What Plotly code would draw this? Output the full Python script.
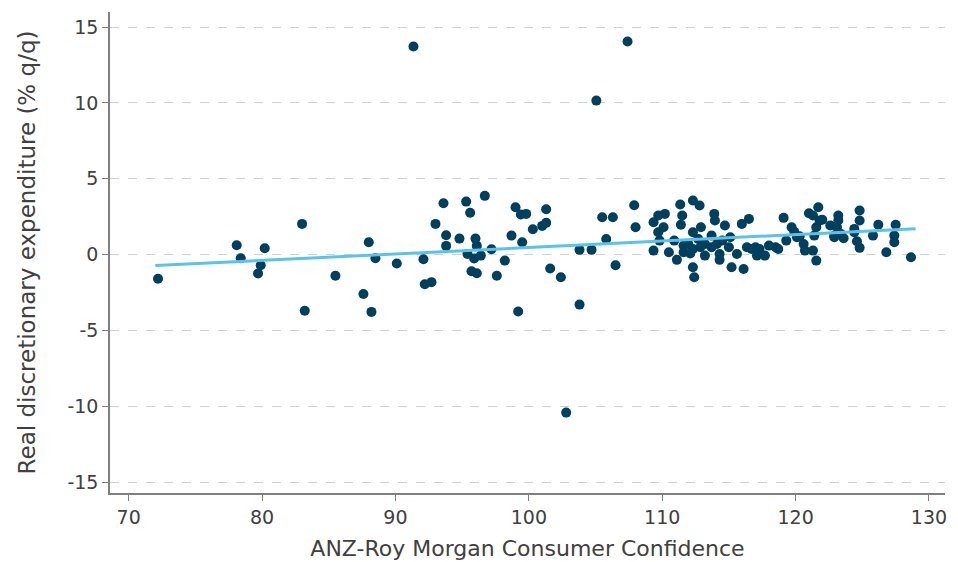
import plotly.graph_objects as go

# ANZ-Roy Morgan Consumer Confidence (x) vs real discretionary expenditure % q/q (y)
confidence = [
    72.2, 78.1, 78.4, 80.2, 79.9, 79.7, 83.0, 83.2, 85.5, 88.0, 88.5, 90.1, 87.6, 88.2,
    92.1, 92.2, 92.7, 93.0, 93.6, 93.8, 93.8, 94.8, 95.3, 95.6, 96.7, 96.0, 96.1, 95.4,
    95.9, 96.4, 97.2, 95.7, 96.1, 97.6, 98.2, 98.7, 99.0, 99.4, 99.8, 99.5, 100.3, 101.0,
    101.3, 101.3, 99.2, 101.6, 102.4, 103.8, 104.7, 103.8, 105.5, 106.3, 105.8, 106.5,
    107.9, 108.0, 91.35, 107.4, 105.06, 102.8,
    109.35, 109.7, 110.2, 110.1, 109.7, 109.8, 109.35, 110.5, 110.9, 111.35, 112.3, 112.8,
    111.5, 111.4, 111.1, 111.6, 111.95, 112.3, 112.9, 112.7, 112.3, 112.85, 113.2, 112.3,
    112.4, 113.2, 113.7, 113.9, 113.95, 114.3, 114.3, 114.5, 114.7, 115.0, 115.2, 115.1,
    115.6, 116.1, 115.97, 116.5, 116.35, 116.7, 113.7, 114.1, 111.6, 112.1,
    117.0, 117.3, 117.1, 117.7, 118.0, 118.5, 118.7, 119.1, 119.3, 119.7, 120.1, 120.6,
    120.7, 121.0, 121.3, 121.4, 121.55, 121.7, 121.8, 121.55, 121.3, 122.6, 122.9, 123.1,
    123.2, 123.2, 122.9, 123.4, 123.6, 124.8, 124.8, 124.4, 124.4, 124.6, 124.8, 125.8,
    126.2, 126.8, 127.4, 127.5, 127.4, 128.65, 122.0, 119.9, 120.3,
]
expenditure = [
    -1.6, 0.61, -0.24, 0.42, -0.7, -1.25, 2.02, -3.7, -1.4, 0.81, -0.24, -0.59, -2.6, -3.78,
    -0.31, -1.96, -1.82, 2.02, 3.38, 1.27, 0.57, 1.05, 3.49, 2.75, 3.87, 1.05, 0.57, 0.04,
    -0.26, -0.07, 0.35, -1.1, -1.23, -1.4, -0.4, 1.25, 3.12, 2.64, 2.68, 0.81, 1.67, 1.89,
    2.09, 2.99, -3.76, -0.92, -1.5, 0.31, 0.31, -3.3, 2.46, 2.46, 1.03, -0.7,
    3.25, 1.8, 13.71, 14.04, 10.15, -10.42,
    2.13, 2.57, 2.68, 1.8, 1.47, 0.92, 0.26, 0.15, 0.92, 3.3, 3.56, 3.23,
    2.57, 1.96, -0.35, 0.59, 0.7, 1.47, 1.8, 1.03, 0.37, 0.48, 0.7, -0.84,
    -1.5, -0.07, 1.25, 2.68, 2.24, 0.04, -0.35, 0.92, 1.91, 0.48, -0.84, 1.14,
    0.04, -0.95, 2.02, 2.35, 0.48, 0.37, 0.48, 0.7, 0.15, 0.07,
    0.48, 0.37, -0.07, -0.07, 0.59, 0.48, 0.37, 2.42, 0.92, 1.8, 1.14, 0.7,
    0.26, 2.72, 0.26, 1.25, 1.8, 3.12, 2.24, -0.4, 2.57, 1.91, 1.25, 1.8,
    2.57, 2.24, 1.14, 1.36, 1.08, 2.9, 2.24, 1.69, 1.47, 0.88, 0.44, 1.25,
    1.96, 0.15, 1.25, 1.96, 0.81, -0.18, 2.29, 1.5, 1.2,
]

# Fitted trend line endpoints
trend_x = [72.0, 129.0]
trend_y = [-0.73, 1.70]

x_ticks = [70, 80, 90, 100, 110, 120, 130]
y_ticks = [-15, -10, -5, 0, 5, 10, 15]

fig = go.Figure()
fig.add_trace(go.Scatter(
    x=confidence, y=expenditure, mode="markers",
    marker=dict(color="#003f5e", size=10, line=dict(width=0)),
    showlegend=False, hoverinfo="x+y",
))
fig.add_trace(go.Scatter(
    x=trend_x, y=trend_y, mode="lines",
    line=dict(color="#5ac3ea", width=3),
    showlegend=False, hoverinfo="skip",
))

font_family = "DejaVu Sans, Verdana, sans-serif"
fig.update_layout(
    width=950, height=554,
    margin=dict(l=102, r=13, t=4, b=69),
    paper_bgcolor="white", plot_bgcolor="white",
    font=dict(family=font_family, size=19, color="#333333"),
    xaxis=dict(
        range=[68.6, 131.2], tickvals=x_ticks, ticktext=[str(v) for v in x_ticks],
        showgrid=False, zeroline=False, automargin=False,
        showline=True, linecolor="#7f7f7f", linewidth=1.5,
        ticks="outside", ticklen=6, tickcolor="#7f7f7f", tickwidth=1,
        tickfont=dict(size=19, color="#404040"),
        title=dict(text="ANZ-Roy Morgan Consumer Confidence", font=dict(size=22, color="#404040"), standoff=14),
    ),
    yaxis=dict(
        range=[-15.72, 15.99], tickvals=y_ticks, ticktext=[str(v) for v in y_ticks],
        showgrid=True, gridcolor="#c9d3dc", griddash="dash", gridwidth=1,
        zeroline=False, automargin=False,
        showline=True, linecolor="#7f7f7f", linewidth=1.5,
        ticks="outside", ticklen=6, tickcolor="#7f7f7f", tickwidth=1,
        tickfont=dict(size=19, color="#404040"),
        title=dict(text="Real discretionary expenditure (% q/q)", font=dict(size=23, color="#404040"), standoff=25),
    ),
)

fig.write_html("out.html")
